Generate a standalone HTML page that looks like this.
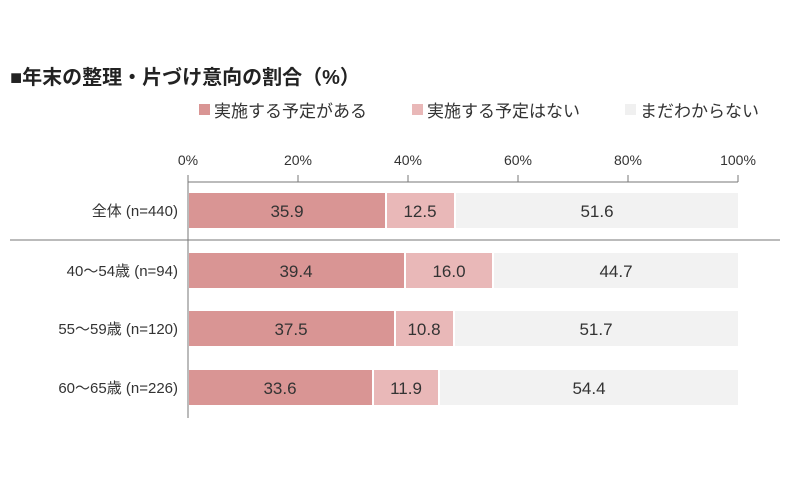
<!DOCTYPE html>
<html><head><meta charset="utf-8"><style>
body{margin:0;background:#fff;}
svg text{font-family:"Liberation Sans","Noto Sans CJK JP",sans-serif;}
</style></head><body>
<svg width="800" height="490" xmlns="http://www.w3.org/2000/svg">
<text x="10" y="84" font-size="20" font-weight="bold" fill="#222">■年末の整理・片づけ意向の割合（%）</text>
<rect x="199" y="104" width="11" height="11" fill="#d99594"/>
<text x="214" y="117" font-size="17" fill="#333">実施する予定がある</text>
<rect x="412" y="104" width="11" height="11" fill="#e9b8b8"/>
<text x="427" y="117" font-size="17" fill="#333">実施する予定はない</text>
<rect x="625" y="104" width="11" height="11" fill="#f0f0f0"/>
<text x="640" y="117" font-size="17" fill="#333">まだわからない</text>
<g font-size="14" fill="#333" text-anchor="middle">
<text x="188" y="165">0%</text><text x="298" y="165">20%</text><text x="408" y="165">40%</text><text x="518" y="165">60%</text><text x="628" y="165">80%</text><text x="738" y="165">100%</text>
</g>
<g stroke="#777" stroke-width="1">
<line x1="188" y1="182" x2="738" y2="182"/>
<line x1="188" y1="175" x2="188" y2="418"/>
<line x1="298" y1="175" x2="298" y2="182"/><line x1="408" y1="175" x2="408" y2="182"/>
<line x1="518" y1="175" x2="518" y2="182"/><line x1="628" y1="175" x2="628" y2="182"/><line x1="738" y1="175" x2="738" y2="182"/>
<line x1="10" y1="240" x2="780" y2="240"/>
</g>
<g font-size="17" fill="#333">
<rect x="189" y="193" width="196" height="35" fill="#d99594"/>
<rect x="387" y="193" width="67" height="35" fill="#e9b8b8"/>
<rect x="456" y="193" width="282" height="35" fill="#f2f2f2"/>
<text x="287" y="217" text-anchor="middle">35.9</text><text x="420" y="217" text-anchor="middle">12.5</text><text x="597" y="217" text-anchor="middle">51.6</text>
<rect x="189" y="253" width="215" height="35" fill="#d99594"/>
<rect x="406" y="253" width="86" height="35" fill="#e9b8b8"/>
<rect x="494" y="253" width="244" height="35" fill="#f2f2f2"/>
<text x="296" y="277" text-anchor="middle">39.4</text><text x="449" y="277" text-anchor="middle">16.0</text><text x="616" y="277" text-anchor="middle">44.7</text>
<rect x="189" y="311" width="205" height="35" fill="#d99594"/>
<rect x="396" y="311" width="57" height="35" fill="#e9b8b8"/>
<rect x="455" y="311" width="283" height="35" fill="#f2f2f2"/>
<text x="291" y="335" text-anchor="middle">37.5</text><text x="424" y="335" text-anchor="middle">10.8</text><text x="596" y="335" text-anchor="middle">51.7</text>
<rect x="189" y="370" width="183" height="35" fill="#d99594"/>
<rect x="374" y="370" width="64" height="35" fill="#e9b8b8"/>
<rect x="440" y="370" width="298" height="35" fill="#f2f2f2"/>
<text x="280" y="394" text-anchor="middle">33.6</text><text x="406" y="394" text-anchor="middle">11.9</text><text x="589" y="394" text-anchor="middle">54.4</text>
</g>
<g font-size="15" fill="#333" text-anchor="end">
<text x="178" y="216">全体 (n=440)</text>
<text x="178" y="276">40～54歳 (n=94)</text>
<text x="178" y="334">55～59歳 (n=120)</text>
<text x="178" y="393">60～65歳 (n=226)</text>
</g>
</svg>
</body></html>
